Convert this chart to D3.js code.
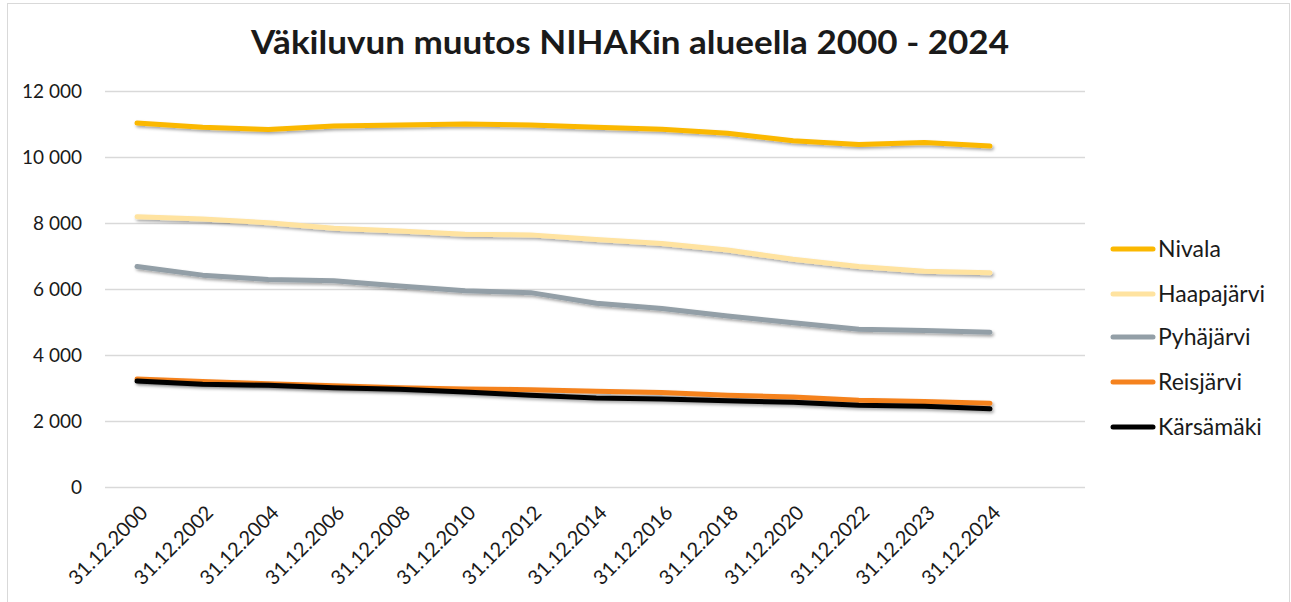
<!DOCTYPE html>
<html>
<head>
<meta charset="utf-8">
<script src="https://cdn.jsdelivr.net/npm/d3@7"></script>
<style>
  html, body { margin: 0; padding: 0; background: #fff; }
  svg { display: block; }
  text { font-family: Lato, "Open Sans", sans-serif; fill: #1a1a1a; }
</style>
</head>
<body>
<svg id="chart" width="1291" height="602"></svg>
<script>
const title = "Väkiluvun muutos NIHAKin alueella 2000 - 2024";
const categories = ["31.12.2000","31.12.2002","31.12.2004","31.12.2006","31.12.2008","31.12.2010","31.12.2012","31.12.2014","31.12.2016","31.12.2018","31.12.2020","31.12.2022","31.12.2023","31.12.2024"];
const yTicks = [0, 2000, 4000, 6000, 8000, 10000, 12000];
const seriesNames = ["Nivala","Haapajärvi","Pyhäjärvi","Reisjärvi","Kärsämäki"];
const nivala      = [11030,10900,10830,10940,10970,11000,10970,10900,10840,10720,10490,10380,10440,10330];
const haapajarvi  = [8190,8120,8010,7840,7760,7660,7640,7500,7380,7180,6900,6680,6540,6490];
const pyhajarvi   = [6680,6420,6290,6250,6090,5950,5890,5570,5410,5180,4980,4780,4740,4690];
const reisjarvi   = [3270,3200,3130,3070,3010,2970,2950,2900,2860,2780,2730,2630,2590,2540];
const karsamaki   = [3210,3110,3080,3010,2960,2880,2780,2700,2670,2610,2570,2480,2450,2370];
const seriesValues = [nivala, haapajarvi, pyhajarvi, reisjarvi, karsamaki];
const colors = ["#FBB800","#FFE3A0","#939FA7","#F5821E","#000000"];

const svg = d3.select("#chart");

// outer border
svg.append("rect").attr("x", 7.5).attr("y", 3.5).attr("width", 1282).attr("height", 610)
  .attr("fill", "none").attr("stroke", "#d9d9d9").attr("stroke-width", 1);

// shadow filter
const defs = svg.append("defs");
const f = defs.append("filter").attr("id", "shadow").attr("x", "-5%").attr("y", "-50%").attr("width", "110%").attr("height", "200%");
f.append("feDropShadow").attr("dx", 1.5).attr("dy", 2).attr("stdDeviation", 1.5)
  .attr("flood-color", "#000").attr("flood-opacity", 0.35);

const gridLeft = 105, gridRight = 1085;
const x = d3.scalePoint().domain(categories).range([137, 990]);
const y = d3.scaleLinear().domain([0, 12000]).range([487, 91]);

// title
svg.append("text").attr("x", 630).attr("y", 54).attr("text-anchor", "middle")
  .attr("font-size", 32).attr("font-weight", 700).attr("fill", "#000")
  .attr("textLength", 758).attr("lengthAdjust", "spacingAndGlyphs")
  .text(title);

// grid lines
svg.append("g").selectAll("line").data(yTicks).join("line")
  .attr("x1", gridLeft).attr("x2", gridRight)
  .attr("y1", d => Math.round(y(d)) + 0.5).attr("y2", d => Math.round(y(d)) + 0.5)
  .attr("stroke", "#d9d9d9").attr("stroke-width", 1.5);

// y axis labels
const fmt = d => d3.format(",")(d).replace(/,/g, "\u00a0");
const yAxis = d3.axisLeft(y).tickValues(yTicks).tickFormat(fmt).tickSize(0).tickPadding(0);
const gy = svg.append("g").attr("transform", "translate(82,0)").call(yAxis);
gy.select(".domain").remove();
gy.selectAll("text").attr("font-size", 19).attr("font-family", "Lato, 'Open Sans', sans-serif").attr("fill", "#1a1a1a").attr("dy", "0.35em");

// x axis labels
const xAxis = d3.axisBottom(x).tickSize(0).tickPadding(0);
const gx = svg.append("g").call(xAxis);
gx.select(".domain").remove();
gx.selectAll(".tick").attr("transform", d => `translate(${x(d) + 7},509)`);
gx.selectAll("text").attr("font-size", 20).attr("font-family", "Lato, 'Open Sans', sans-serif")
  .attr("fill", "#1a1a1a").attr("text-anchor", "end").attr("y", 0).attr("dy", "0.35em")
  .attr("transform", "rotate(-45)");

// lines
const line = d3.line().x((d, i) => x(categories[i])).y(d => y(d));
svg.append("g").selectAll("path").data(seriesValues).join("path")
  .attr("d", d => line(d))
  .attr("fill", "none")
  .attr("stroke", (d, i) => colors[i])
  .attr("stroke-width", 5)
  .attr("stroke-linejoin", "round")
  .attr("stroke-linecap", "round")
  .attr("filter", "url(#shadow)");

// legend
const legendY = [249, 294, 337, 382, 427];
const lg = svg.append("g").selectAll("g").data(seriesNames).join("g")
  .attr("transform", (d, i) => `translate(1113,${legendY[i]})`);
lg.append("line").attr("x1", 0).attr("x2", 40).attr("y1", 0).attr("y2", 0)
  .attr("stroke", (d, i) => colors[i]).attr("stroke-width", 5).attr("stroke-linecap", "round");
lg.append("text").attr("x", 45).attr("y", 0).attr("dy", "0.35em").attr("font-size", 23)
  .attr("fill", "#1a1a1a").text(d => d);
</script>
</body>
</html>
